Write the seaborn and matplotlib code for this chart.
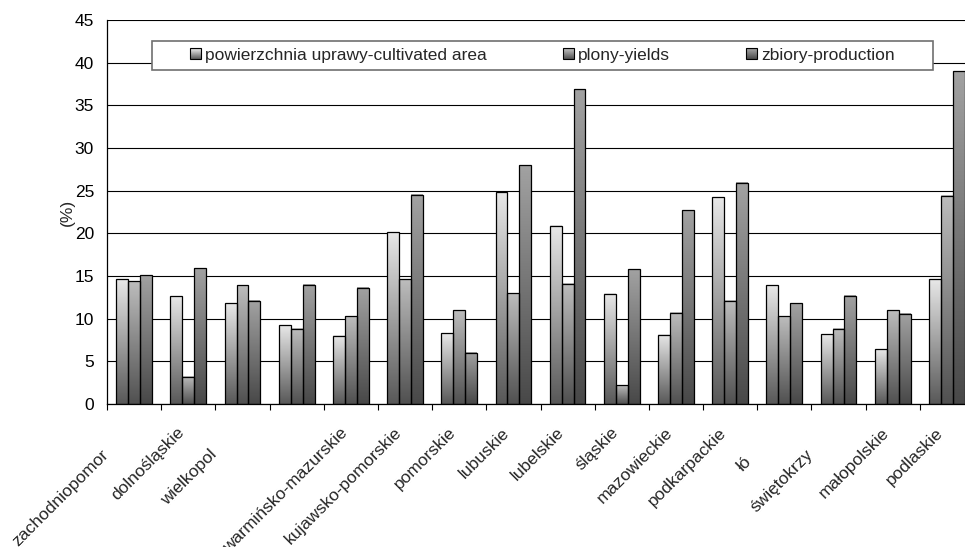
import numpy as np
import pandas as pd
import matplotlib
matplotlib.use("Agg")
import matplotlib.pyplot as plt
import seaborn as sns
from matplotlib.patches import Rectangle, Patch
from matplotlib.legend_handler import HandlerBase
from matplotlib.transforms import ScaledTranslation
from matplotlib.textpath import TextToPath
from matplotlib.font_manager import FontProperties
from matplotlib.colors import to_rgb

# --- data -----------------------------------------------------------------
region_names = [
    "zachodniopomorskie", "dolnośląskie", "wielkopolskie", "opolskie",
    "warmińsko-mazurskie", "kujawsko-pomorskie", "pomorskie", "lubuskie",
    "lubelskie", "śląskie", "mazowieckie", "podkarpackie", "łódzkie",
    "świętokrzyskie", "małopolskie", "podlaskie",
]
# labels as printed on the axis (long ones are cut off, opolskie is not printed)
shown_labels = [
    "zachodniopomor", "dolnośląskie", "wielkopol", "",
    "warmińsko-mazurskie", "kujawsko-pomorskie", "pomorskie", "lubuskie",
    "lubelskie", "śląskie", "mazowieckie", "podkarpackie", "łó",
    "świętokrzy", "małopolskie", "podlaskie",
]
series_names = ["powierzchnia uprawy-cultivated area", "plony-yields", "zbiory-production"]

area = [14.6, 12.6, 11.8, 9.2, 8.0, 20.1, 8.3, 24.8, 20.9, 12.9, 8.1, 24.2, 13.9, 8.2, 6.4, 14.6]
yields = [14.4, 3.2, 13.9, 8.8, 10.3, 14.6, 11.0, 13.0, 14.1, 2.2, 10.7, 12.1, 10.3, 8.8, 11.0, 24.4]
production = [15.1, 15.9, 12.1, 14.0, 13.6, 24.5, 6.0, 28.0, 36.9, 15.8, 22.7, 25.9, 11.8, 12.7, 10.6, 39.0]

y_ticks = [0, 5, 10, 15, 20, 25, 30, 35, 40, 45]

# (top, bottom) colours of each series' vertical gradient
gradients = [("#e8e8e8", "#585858"), ("#bdbdbd", "#505050"), ("#a2a2a2", "#484848")]

df = pd.DataFrame({
    "region": region_names * 3,
    "series": np.repeat(series_names, len(region_names)),
    "value": area + yields + production,
})

# --- style ----------------------------------------------------------------
sns.set_style("white")
plt.rcParams["font.family"] = ["Liberation Sans", "DejaVu Sans"]
FS = 12.5

W, H = 965, 547
fig = plt.figure(figsize=(W / 100, H / 100), dpi=100)
ax = fig.add_axes([107 / W, 1 - 404 / H, 867 / W, 384 / H])

sns.barplot(data=df, x="region", y="value", hue="series", order=region_names,
            hue_order=series_names, width=0.66, errorbar=None, legend=False,
            palette=[g[0] for g in gradients], ax=ax)

# gradient fill for every bar
for container, (top, bot) in zip(ax.containers, gradients):
    t, b = np.array(to_rgb(top)), np.array(to_rgb(bot))
    ramp = np.linspace(0, 1, 256)[:, None, None]
    img = b + (t - b) * ramp
    for bar in container:
        x0, y0 = bar.get_x(), bar.get_y()
        w, h = bar.get_width(), bar.get_height()
        ax.imshow(img, extent=(x0, x0 + w, y0, y0 + h), origin="lower",
                  aspect="auto", interpolation="bilinear", zorder=1.5)
        bar.set_facecolor("none")
        bar.set_edgecolor("black")
        bar.set_linewidth(0.9)
        bar.set_zorder(2)

ax.set_xlim(-0.5, len(region_names) - 0.5)
ax.set_ylim(0, 45)
ax.set_yticks(y_ticks)
ax.set_yticklabels([str(v) for v in y_ticks], fontsize=FS)
ax.tick_params(axis="y", length=4.3, width=0.8, direction="out", pad=5.0, colors="black")

ax.set_xticks(range(len(region_names)))
ax.set_xticklabels(shown_labels, fontsize=FS, rotation=45, ha="right",
                   rotation_mode="anchor")
ax.set_xticks(np.arange(-0.5, len(region_names), 1), minor=True)
ax.tick_params(axis="x", which="major", length=0, pad=15.0)
ax.tick_params(axis="x", which="minor", length=4.3, width=0.8, direction="out",
               bottom=True, color="black")

ax.set_xlabel("")
ax.set_ylabel("(%)", fontsize=FS)
ax.yaxis.set_label_coords(-(107 - 75) / 867, 0.5)

ax.yaxis.grid(True, color="black", linewidth=0.8)
ax.xaxis.grid(False)
ax.set_axisbelow(True)
for side in ("top", "right"):
    ax.spines[side].set_visible(False)
for side in ("left", "bottom"):
    ax.spines[side].set_color("black")
    ax.spines[side].set_linewidth(0.9)

# cut-off labels keep the place of their full text
ttp = TextToPath()
prop = FontProperties(family="Liberation Sans", size=FS)
for lab, full, shown in zip(ax.get_xticklabels(), region_names, shown_labels):
    d = 0.0
    if shown and shown != full:
        miss = (ttp.get_text_width_height_descent(full, prop, False)[0]
                - ttp.get_text_width_height_descent(shown, prop, False)[0])
        d = miss * np.cos(np.pi / 4) / 72
    lab.set_transform(lab.get_transform()
                      + ScaledTranslation(-8.2 / 72 - d, -d, fig.dpi_scale_trans))


# --- legend ---------------------------------------------------------------
class GradientSquare(HandlerBase):
    def create_artists(self, legend, orig_handle, xdescent, ydescent,
                       width, height, fontsize, trans):
        top, bot = (np.array(to_rgb(c)) for c in orig_handle.gradient)
        n = 10
        arts = []
        for i in range(n):
            f = (i + 0.5) / n
            arts.append(Rectangle((-xdescent, -ydescent + i * height / n), width,
                                  height / n, facecolor=bot + (top - bot) * f,
                                  edgecolor="none", transform=trans))
        arts.append(Rectangle((-xdescent, -ydescent), width, height,
                              facecolor="none", edgecolor="black", lw=0.8,
                              transform=trans))
        return arts


handles = []
for g in gradients:
    p = Patch()
    p.gradient = g
    handles.append(p)

fig.add_artist(Rectangle((152 / W, 1 - 70 / H), (933 - 152) / W, 29 / H,
                         transform=fig.transFigure, facecolor="white",
                         edgecolor="#707070", lw=1.2, zorder=3))
fig.legend(handles, series_names, loc="center",
           bbox_to_anchor=((152 + 933) / 2 / W, 1 - 55.5 / H),
           bbox_transform=fig.transFigure, ncol=3, frameon=False, fontsize=FS,
           handlelength=0.6, handleheight=0.6, handletextpad=0.25,
           columnspacing=4.4, borderpad=0, handler_map={Patch: GradientSquare()})

fig.savefig("out.png", dpi=100)
